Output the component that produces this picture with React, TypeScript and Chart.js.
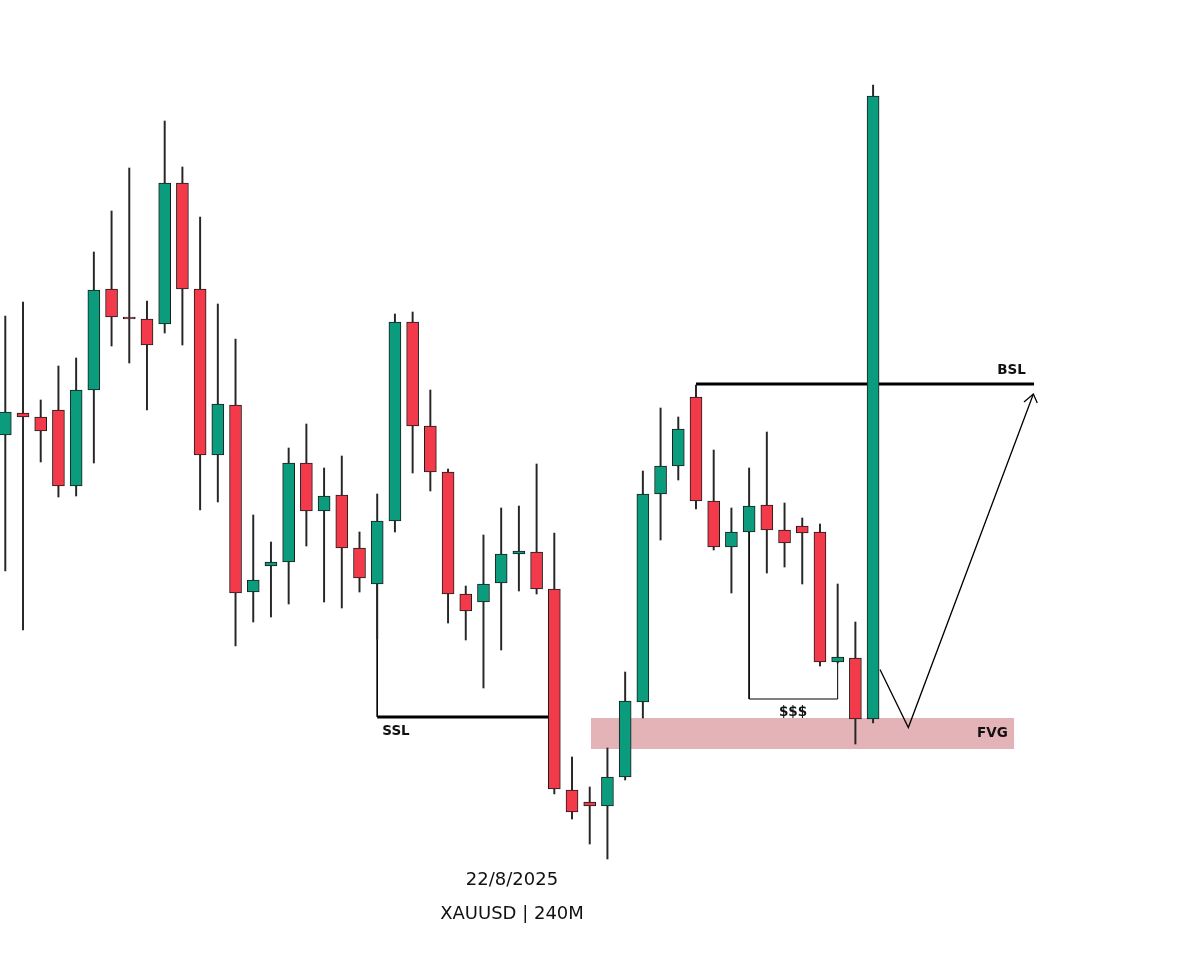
import React, { useEffect, useRef } from "react";
import { Chart, registerables } from "chart.js";

Chart.register(...registerables);

// Candle data (arbitrary price units), index 0..49
const opens = [565, 587, 583, 590, 514, 610, 711, 683, 681, 676, 817, 711, 545, 595, 408, 434, 438, 537, 489, 505, 452, 416, 479, 678, 574, 528, 406, 398, 417, 446, 448, 411, 210, 198, 194, 223, 298, 506, 534, 603, 499, 453, 468, 495, 470, 474, 468, 338, 342, 281];
const highs = [684, 698, 600, 634, 642, 748, 789, 832, 699, 879, 833, 783, 696, 661, 485, 458, 552, 576, 532, 544, 468, 506, 686, 688, 610, 531, 414, 465, 492, 494, 536, 467, 243, 213, 252, 328, 529, 592, 583, 615, 550, 492, 532, 568, 497, 482, 476, 416, 378, 915];
const lows = [429, 370, 538, 503, 504, 537, 654, 637, 590, 667, 655, 490, 498, 354, 378, 383, 396, 454, 398, 392, 408, 361, 468, 527, 509, 377, 360, 312, 350, 409, 406, 206, 181, 156, 141, 220, 282, 460, 520, 491, 450, 407, 467, 427, 433, 416, 334, 337, 256, 277];
const closes = [588, 583, 569, 514, 610, 710, 683, 681, 655, 817, 711, 545, 596, 407, 420, 438, 537, 489, 504, 452, 422, 479, 678, 574, 528, 406, 389, 416, 446, 449, 411, 211, 188, 194, 223, 299, 506, 534, 571, 499, 453, 468, 494, 470, 457, 467, 338, 343, 281, 904];

// Annotation geometry in data units (index, price)
const bslLine = [{ x: 39, y: 616 }, { x: 58.09, y: 616 }];
const sslLine = [{ x: 21, y: 283 }, { x: 30.7, y: 283 }];
const sslDrop = [{ x: 21, y: 417 }, { x: 21, y: 283 }];
const liquidityBracket = [{ x: 42, y: 468 }, { x: 42, y: 301 }, { x: 47, y: 301 }, { x: 47, y: 338 }];
const projectionPath = [{ x: 49.39, y: 330.5 }, { x: 50.99, y: 272.4 }, { x: 58.05, y: 606 }];
const arrowHead = [{ x: 57.52, y: 598 }, { x: 58.05, y: 606 }, { x: 58.27, y: 597 }];
const fvgZone = { x0: 33.07, x1: 56.96, y0: 251, y1: 282 };
const labels = [
  { text: "BSL", x: 56.82, y: 630, kind: "tag" },
  { text: "SSL", x: 22.06, y: 269, kind: "tag" },
  { text: "$$$", x: 44.48, y: 288, kind: "tag" },
  { text: "FVG", x: 55.74, y: 267, kind: "tag" },
  { text: "22/8/2025", x: 28.61, y: 120, kind: "caption" },
  { text: "XAUUSD | 240M", x: 28.61, y: 86, kind: "caption" },
];

const GREEN = "#0b9b7d";
const RED = "#f23a4a";
const OUTLINE = "#1c1c1c";
const WICK = "#262626";
const FVG_COLOR = "#e4b3b8";

export default function App() {
  const ref = useRef<HTMLCanvasElement | null>(null);

  useEffect(() => {
    document.body.style.margin = "0";
    const canvas = ref.current;
    if (!canvas) return;

    const idx = opens.map((_, i) => i);
    const bodyColors = idx.map((i) => (closes[i] >= opens[i] ? GREEN : RED));

    const annotationPlugin = {
      id: "annotationPlugin",
      beforeDatasetsDraw(chart: any) {
        const { ctx, scales } = chart;
        const xs = scales.x;
        const ys = scales.y;
        const x0 = xs.getPixelForValue(fvgZone.x0);
        const x1 = xs.getPixelForValue(fvgZone.x1);
        const y0 = ys.getPixelForValue(fvgZone.y1);
        const y1 = ys.getPixelForValue(fvgZone.y0);
        ctx.save();
        ctx.fillStyle = FVG_COLOR;
        ctx.fillRect(x0, y0, x1 - x0, y1 - y0);
        ctx.restore();
      },
      afterDatasetsDraw(chart: any) {
        const { ctx, scales } = chart;
        ctx.save();
        ctx.textAlign = "center";
        ctx.textBaseline = "middle";
        for (const l of labels) {
          ctx.fillStyle = "#111";
          ctx.font = l.kind === "tag" ? 'bold 13.5px "DejaVu Sans"' : '18px "DejaVu Sans"';
          ctx.fillText(l.text, scales.x.getPixelForValue(l.x), scales.y.getPixelForValue(l.y));
        }
        ctx.restore();
      },
    };

    const lineDs = (data: any[], width: number) => ({
      type: "line" as const,
      data,
      borderColor: "#000",
      borderWidth: width,
      pointRadius: 0,
      fill: false,
      tension: 0,
      order: 3,
    });

    const chart = new Chart(canvas, {
      type: "bar",
      data: {
        datasets: [
          lineDs(bslLine, 3),
          lineDs(sslLine, 3),
          lineDs(sslDrop, 1),
          lineDs(liquidityBracket, 1),
          lineDs(projectionPath, 1.3),
          lineDs(arrowHead, 1.3),
          {
            type: "bar",
            data: idx.map((i) => ({ x: i, y: [lows[i], highs[i]] })),
            backgroundColor: WICK,
            barThickness: 1.3,
            grouped: false,
            order: 2,
          } as any,
          {
            type: "bar",
            data: idx.map((i) => ({ x: i, y: [opens[i], closes[i]] })),
            backgroundColor: bodyColors,
            borderColor: OUTLINE,
            borderWidth: 1,
            borderSkipped: false,
            barThickness: 12,
            grouped: false,
            order: 1,
          } as any,
        ],
      },
      options: {
        animation: false,
        responsive: true,
        maintainAspectRatio: false,
        events: [],
        layout: { padding: 0 },
        plugins: { legend: { display: false }, tooltip: { enabled: false }, title: { display: false } },
        scales: {
          x: { type: "linear", min: -0.2993, max: 67.459, offset: false, display: false, grid: { display: false, offset: false } },
          y: { type: "linear", min: 47, max: 1000, display: false, grid: { display: false } },
        },
      },
      plugins: [annotationPlugin],
    } as any);

    return () => chart.destroy();
  }, []);

  return (
    <div style={{ position: "absolute", left: 0, top: 0, width: 1200, height: 953, background: "#fff" }}>
      <canvas ref={ref} />
    </div>
  );
}
